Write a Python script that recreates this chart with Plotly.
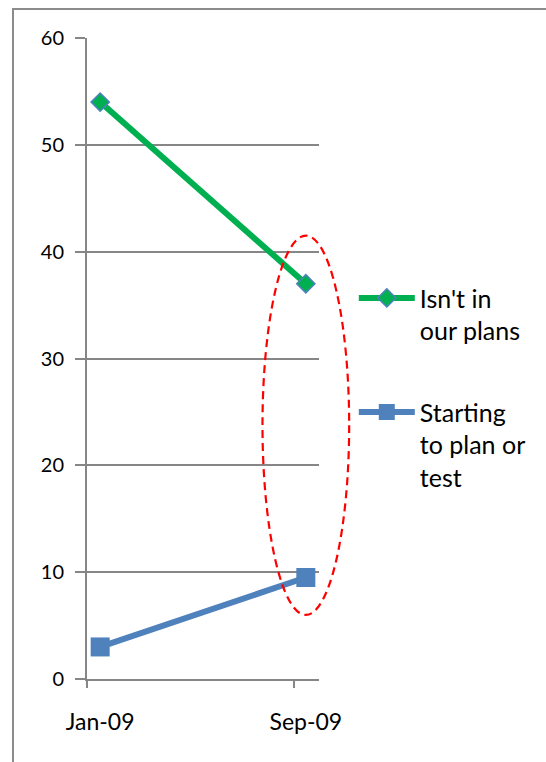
import plotly.graph_objects as go
from datetime import datetime

# ---- data ----
categories = ["Jan-09", "Sep-09"]
dates = ["2009-01-16 12:00", "2009-09-15 12:00"]
not_in_plans = [54, 37]
starting_to_plan = [3, 9.5]
series_names = ["Isn't in<br>our plans", "Starting<br>to plan or<br>test"]
y_ticks = [0, 10, 20, 30, 40, 50, 60]

# highlight around the Sep-09 point (data units: days either side, y span)
hl_date = "2009-09-15 12:00"
hl_half_days = 51
hl_y_low, hl_y_high = 6.0, 41.5

x_range = ["2009-01-01", "2009-10-01"]
y_range = [0, 60]
slot_starts = ["2009-01-01", "2009-09-01"]

GREEN = "#00B050"
BLUE = "#4F81BD"
GRID = "#868686"
FONT = "Lato"

fig = go.Figure()
fig.add_trace(go.Scatter(
    x=dates, y=not_in_plans, name=series_names[0], mode="lines+markers",
    legendgroup="a",
    line=dict(color=GREEN, width=6),
    marker=dict(symbol="diamond", size=14, color=GREEN, line=dict(color=BLUE, width=1.5)),
))
fig.add_trace(go.Scatter(
    x=dates, y=starting_to_plan, name=series_names[1], mode="lines+markers",
    legendgroup="b",
    line=dict(color=BLUE, width=6),
    marker=dict(symbol="square", size=19, color=BLUE),
))

# convert data to paper fractions for the highlight ellipse (drawn unclipped)
def _d(s):
    return datetime.fromisoformat(s)
x0d, x1d = _d(x_range[0]), _d(x_range[1])
span = (x1d - x0d).total_seconds()
cx = (_d(hl_date) - x0d).total_seconds() / span
hw = hl_half_days * 86400 / span
fig.add_shape(type="circle", xref="paper", yref="paper",
              x0=cx - hw, x1=cx + hw,
              y0=(hl_y_low - y_range[0]) / (y_range[1] - y_range[0]),
              y1=(hl_y_high - y_range[0]) / (y_range[1] - y_range[0]),
              line=dict(color="#FF0000", width=2.2, dash="8px,5px"), layer="above")

# outer frame
fig.add_shape(type="rect", xref="paper", yref="paper",
              x0=(13 - 87) / 232, x1=2.2, y0=-0.2, y1=(679 - 9) / 641,
              line=dict(color="#8C8C8C", width=2), layer="below")

fig.update_layout(
    width=546, height=762,
    margin=dict(l=87, r=227, t=38, b=83),
    paper_bgcolor="white", plot_bgcolor="white",
    font=dict(family=FONT, color="#000000"),
    showlegend=True,
    legend=dict(x=1.15, y=0.63, xanchor="left", yanchor="top",
                font=dict(size=25, family=FONT), valign="top",
                itemwidth=56, tracegroupgap=46, bgcolor="rgba(0,0,0,0)"),
    xaxis=dict(type="date", range=x_range, tickvals=dates, ticktext=categories,
               ticks="", showgrid=False, showline=True, linecolor=GRID, linewidth=2,
               tickfont=dict(size=23, family=FONT), ticklabelstandoff=21,
               minor=dict(tickvals=slot_starts, ticks="outside", ticklen=7,
                          tickcolor=GRID, tickwidth=2, showgrid=False),
               zeroline=False),
    yaxis=dict(range=y_range, tickvals=y_ticks, showgrid=True, gridcolor=GRID, gridwidth=2,
               showline=True, linecolor=GRID, linewidth=2, ticks="outside", ticklen=10,
               tickcolor=GRID, tickwidth=2, zeroline=False,
               tickfont=dict(size=20, family=FONT), ticklabelstandoff=7),
)

fig.write_html("out.html")
